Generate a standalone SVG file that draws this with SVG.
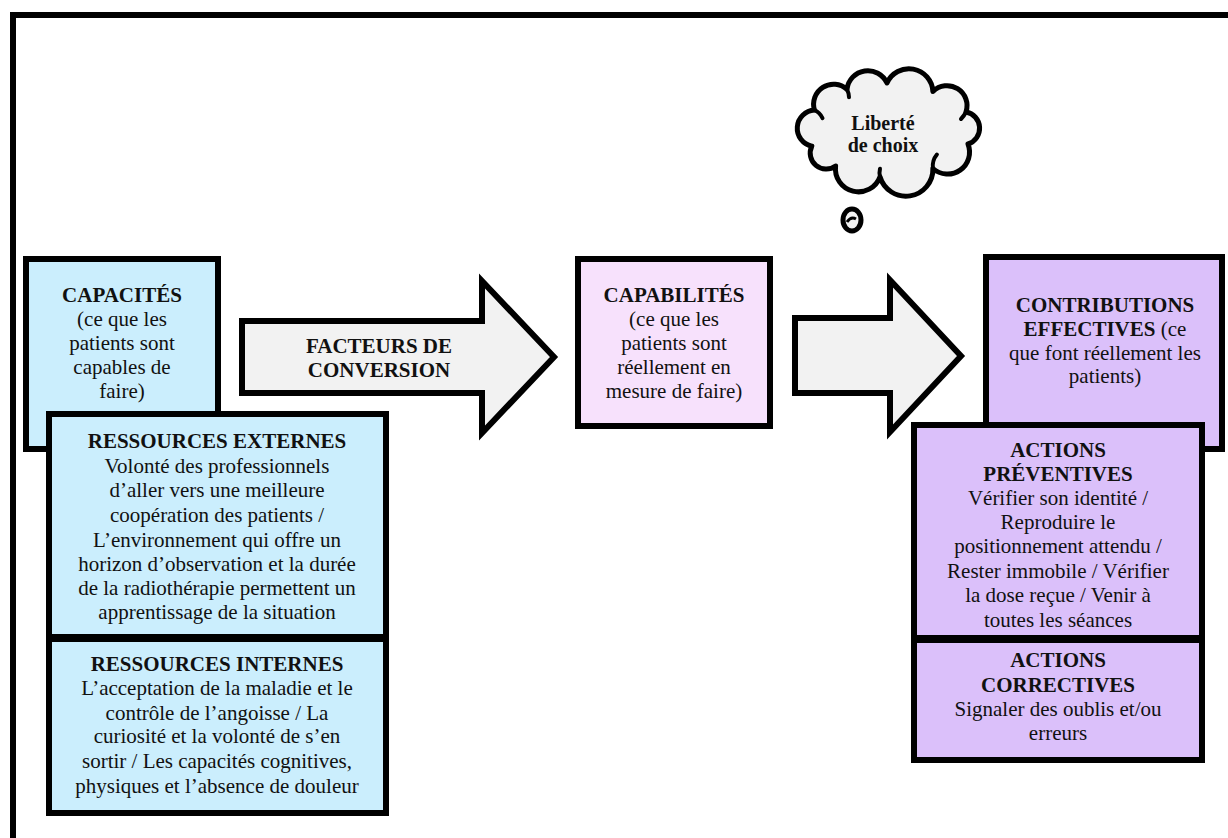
<svg xmlns="http://www.w3.org/2000/svg" width="1228" height="838" viewBox="0 0 1228 838">
<style>
text{font-family:'Liberation Serif','DejaVu Serif',serif}
.t{font-size:21px;fill:#111;text-anchor:middle}
.b{font-weight:bold}
.box{stroke:#000;stroke-width:6}
.blue{fill:#cbeefd}
.pink{fill:#f7e1fc}
.lav{fill:#dbc0fa}
.arr{fill:#f2f2f2;stroke:#000;stroke-width:6}
</style>
<rect x="0" y="0" width="1228" height="838" fill="#fff"/>
<rect id="frame" x="13" y="15" width="1240" height="850" fill="none" stroke="#000" stroke-width="6"/>

<g id="connectors">
<polygon class="arr" points="242,321 482,321 482,281 554,357 482,433 482,393 242,393"/>
<text class="t b" font-family="Liberation Serif, serif" x="379" y="353">FACTEURS DE</text>
<text class="t b" font-family="Liberation Serif, serif" x="379" y="377">CONVERSION</text>
<polygon class="arr" points="795,318 890,318 890,280 961,356 890,432 890,393 795,393"/>
</g>

<g id="capacites" font-family="Liberation Serif, serif">
<rect class="box blue" x="26" y="259" width="192" height="190"/>
<text class="t" x="122"><tspan class="b" x="122" y="302">CAPACITÉS</tspan><tspan x="122" y="326">(ce que les</tspan><tspan x="122" y="350">patients sont</tspan><tspan x="122" y="374">capables de</tspan><tspan x="122" y="398">faire)</tspan></text>
</g>

<g id="ressources-externes">
<rect class="box blue" x="49" y="414" width="337" height="223"/>
<text class="t" x="217"><tspan class="b" x="217" y="448">RESSOURCES EXTERNES</tspan><tspan x="217" y="473">Volonté des professionnels</tspan><tspan x="217" y="497">d’aller vers une meilleure</tspan><tspan x="217" y="522">coopération des patients /</tspan><tspan x="217" y="547">L’environnement qui offre un</tspan><tspan x="217" y="571">horizon d’observation et la durée</tspan><tspan x="217" y="595">de la radiothérapie permettent un</tspan><tspan x="217" y="619">apprentissage de la situation</tspan></text>
</g>

<g id="ressources-internes">
<rect class="box blue" x="49" y="639" width="337" height="174"/>
<text class="t" x="217"><tspan class="b" x="217" y="671">RESSOURCES INTERNES</tspan><tspan x="217" y="695">L’acceptation de la maladie et le</tspan><tspan x="217" y="720">contrôle de l’angoisse / La</tspan><tspan x="217" y="743">curiosité et la volonté de s’en</tspan><tspan x="217" y="768">sortir / Les capacités cognitives,</tspan><tspan x="217" y="793">physiques et l’absence de douleur</tspan></text>
</g>

<g id="capabilites">
<rect class="box pink" x="578" y="259" width="192" height="167"/>
<text class="t" x="674"><tspan class="b" x="674" y="302">CAPABILITÉS</tspan><tspan x="674" y="326">(ce que les</tspan><tspan x="674" y="350">patients sont</tspan><tspan x="674" y="374">réellement en</tspan><tspan x="674" y="398">mesure de faire)</tspan></text>
</g>

<g id="liberte">
<path d="M811.8,146.1 A18.2,18.2 0 0 1 814.5,110.1 A20,20 0 0 1 847,89.3 A21,21 0 0 1 887,83 A24,24 0 0 1 932.9,91.5 A20,20 0 0 1 966,112 A16.5,16.5 0 0 1 968,144 A22,22 0 0 1 932.9,168.5 A27,27 0 0 1 880,176.8 A23,23 0 0 1 835.6,166 A16,16 0 0 1 811.8,146.1 Z" fill="#f2f2f2" stroke="#000" stroke-width="5" stroke-linejoin="round"/>
<path d="M814.5,110.1 q5,2 8,8 M847,89.3 q2,4 2,8 M966,112 q-2,4 -5,7 M932.9,168.5 q-1,-8 4,-14 M880,176.8 q-1,-4 0,-8" fill="none" stroke="#000" stroke-width="4" stroke-linecap="round"/>
<ellipse cx="852" cy="220" rx="9" ry="11" fill="#f2f2f2" stroke="#000" stroke-width="5"/>
<path d="M847,222 q4,-6 9,-3" fill="none" stroke="#000" stroke-width="3"/>
<text class="t b" x="883" style="font-size:20px"><tspan x="883" y="130">Liberté</tspan><tspan x="883" y="152">de choix</tspan></text>
</g>

<g id="contributions">
<rect class="box lav" x="986" y="257" width="236" height="192"/>
<text class="t" x="1105"><tspan class="b" x="1105" y="312">CONTRIBUTIONS</tspan><tspan x="1105" y="336"><tspan class="b">EFFECTIVES</tspan> (ce</tspan><tspan x="1105" y="360">que font réellement les</tspan><tspan x="1105" y="383">patients)</tspan></text>
</g>

<g id="actions-preventives">
<rect class="box lav" x="914" y="425" width="288" height="213"/>
<text class="t" x="1058"><tspan class="b" x="1058" y="457">ACTIONS</tspan><tspan class="b" x="1058" y="481">PRÉVENTIVES</tspan><tspan x="1058" y="505">Vérifier son identité /</tspan><tspan x="1058" y="529">Reproduire le</tspan><tspan x="1058" y="553">positionnement attendu /</tspan><tspan x="1058" y="578">Rester immobile / Vérifier</tspan><tspan x="1058" y="602">la dose reçue / Venir à</tspan><tspan x="1058" y="627">toutes les séances</tspan></text>
</g>

<g id="actions-correctives">
<rect class="box lav" x="914" y="640" width="288" height="120"/>
<text class="t" x="1058"><tspan class="b" x="1058" y="667">ACTIONS</tspan><tspan class="b" x="1058" y="692">CORRECTIVES</tspan><tspan x="1058" y="716">Signaler des oublis et/ou</tspan><tspan x="1058" y="740">erreurs</tspan></text>
</g>
</svg>
